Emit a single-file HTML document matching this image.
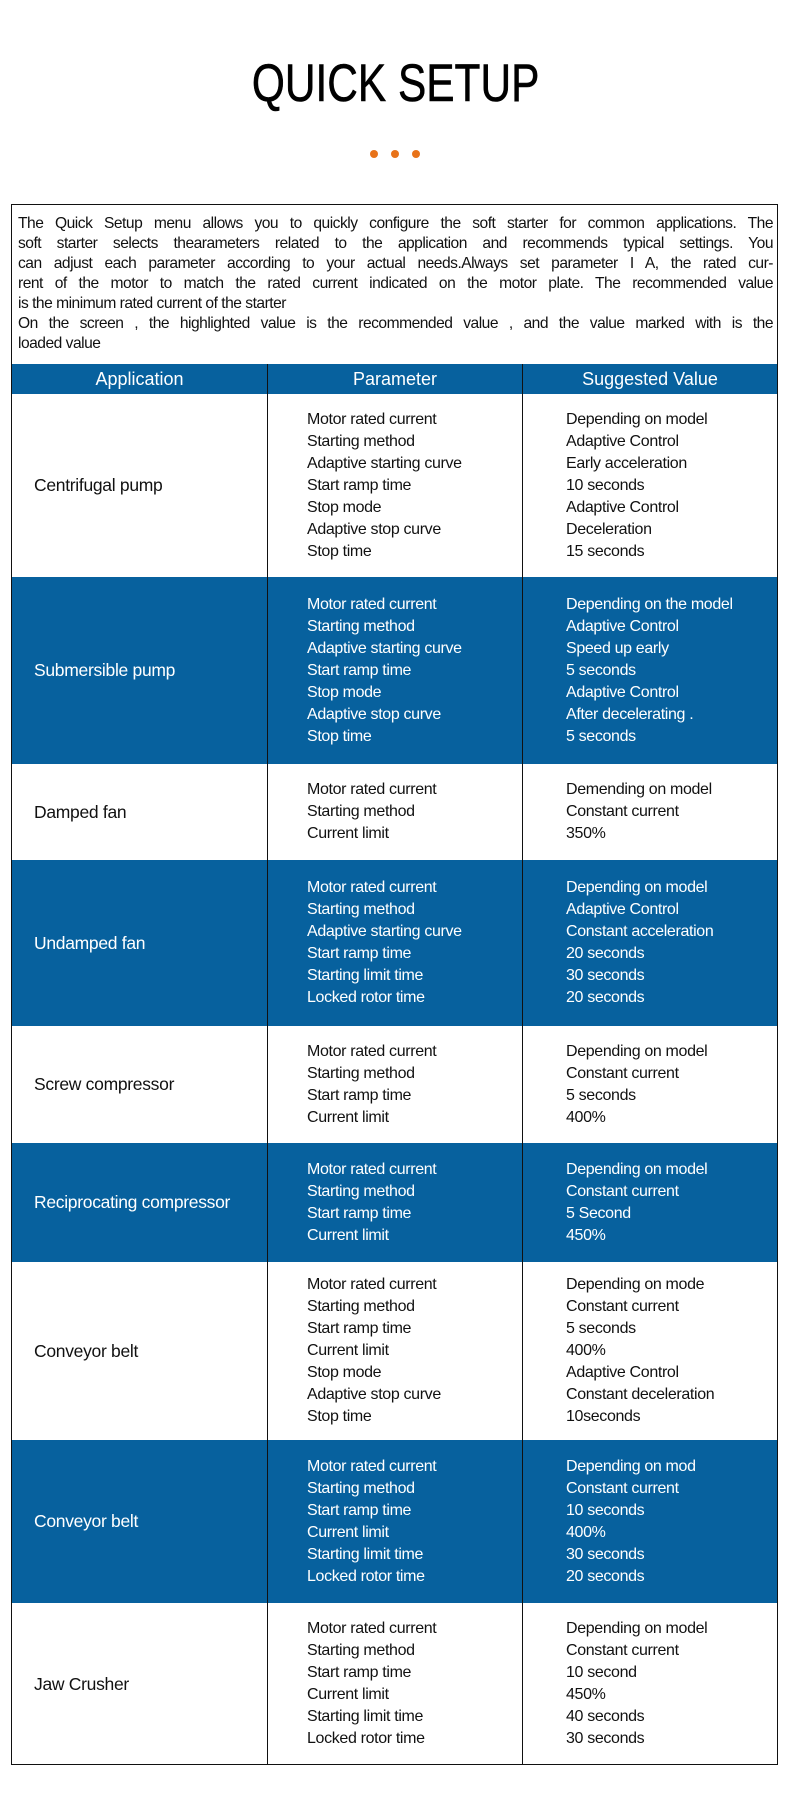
<!DOCTYPE html>
<html><head><meta charset="utf-8"><style>
*{margin:0;padding:0;box-sizing:border-box}
body{width:792px;height:1814px;background:#fff;position:relative;font-family:"Liberation Sans",sans-serif;color:#111;overflow:hidden}
.title{position:absolute;left:0;top:52px;width:792px;text-align:center;font-size:53px;line-height:64px;color:#000}
.title span{display:inline-block;transform:scaleX(0.8);-webkit-text-stroke:0.6px #000}
.dot{position:absolute;top:150px;width:8px;height:8px;border-radius:50%;background:#e8731a}
.frame{position:absolute;left:11px;top:204px;width:767px;height:1561px;border:1.5px solid #111}
.intro{position:absolute;left:18px;top:214px;width:755px;font-size:15.6px;line-height:20px;letter-spacing:-0.5px;color:#111}
.intro div{text-align:justify;text-align-last:justify;white-space:nowrap}
.intro div.l{text-align-last:left}
.row{position:absolute;left:11px;width:767px;display:flex;align-items:center;border-top:1px solid #111}
.row.b{background:#07619e;color:#fff;border-top:none}
.c1{position:absolute;left:23px;font-size:17.5px;letter-spacing:-0.3px}
.c2,.c3{position:absolute;font-size:16px;line-height:22px;letter-spacing:-0.35px}
.c2{left:296px}.c3{left:555px}
.vl{position:absolute;top:364px;height:1401px;width:1px;background:#111}
.hdr{position:absolute;left:11px;top:364px;width:767px;height:30px;background:#07619e;color:#fff;font-size:18px;line-height:30px}
.hdr span{position:absolute;text-align:center}
</style></head><body>
<div class="title"><span>QUICK SETUP</span></div>
<div class="dot" style="left:370px"></div><div class="dot" style="left:391px"></div><div class="dot" style="left:412px"></div>
<div class="frame"></div>
<div class="intro">
<div>The Quick Setup menu allows you to quickly configure the soft starter for common applications. The</div>
<div>soft starter selects thearameters related to the application and recommends typical settings. You</div>
<div>can adjust each parameter according to your actual needs.Always set parameter I A, the rated cur-</div>
<div>rent of the motor to match the rated current indicated on the motor plate. The recommended value</div>
<div class="l">is the minimum rated current of the starter</div>
<div>On the screen , the highlighted value is the recommended value , and the value marked with is the</div>
<div class="l">loaded value</div>
</div>
<div class="hdr"><span style="left:0;width:257px">Application</span><span style="left:257px;width:254px">Parameter</span><span style="left:511px;width:256px">Suggested Value</span></div>

<div class="row" style="top:394px;height:183px;border-top:none"><div class="c1">Centrifugal pump</div><div class="c2">Motor rated current<br>Starting method<br>Adaptive starting curve<br>Start ramp time<br>Stop mode<br>Adaptive stop curve<br>Stop time</div><div class="c3">Depending on model<br>Adaptive Control<br>Early acceleration<br>10 seconds<br>Adaptive Control<br>Deceleration<br>15 seconds</div></div>
<div class="row b" style="top:577px;height:187px"><div class="c1">Submersible pump</div><div class="c2">Motor rated current<br>Starting method<br>Adaptive starting curve<br>Start ramp time<br>Stop mode<br>Adaptive stop curve<br>Stop time</div><div class="c3">Depending on the model<br>Adaptive Control<br>Speed up early<br>5 seconds<br>Adaptive Control<br>After decelerating .<br>5 seconds</div></div>
<div class="row" style="top:764px;height:96px;border-top:none"><div class="c1">Damped fan</div><div class="c2">Motor rated current<br>Starting method<br>Current limit</div><div class="c3">Demending on model<br>Constant current<br>350%</div></div>
<div class="row b" style="top:860px;height:166px"><div class="c1">Undamped fan</div><div class="c2">Motor rated current<br>Starting method<br>Adaptive starting curve<br>Start ramp time<br>Starting limit time<br>Locked rotor time</div><div class="c3">Depending on model<br>Adaptive Control<br>Constant acceleration<br>20 seconds<br>30 seconds<br>20 seconds</div></div>
<div class="row" style="top:1026px;height:117px;border-top:none"><div class="c1">Screw compressor</div><div class="c2">Motor rated current<br>Starting method<br>Start ramp time<br>Current limit</div><div class="c3">Depending on model<br>Constant current<br>5 seconds<br>400%</div></div>
<div class="row b" style="top:1143px;height:119px"><div class="c1">Reciprocating compressor</div><div class="c2">Motor rated current<br>Starting method<br>Start ramp time<br>Current limit</div><div class="c3">Depending on model<br>Constant current<br>5 Second<br>450%</div></div>
<div class="row" style="top:1262px;height:178px;border-top:none"><div class="c1">Conveyor belt</div><div class="c2">Motor rated current<br>Starting method<br>Start ramp time<br>Current limit<br>Stop mode<br>Adaptive stop curve<br>Stop time</div><div class="c3">Depending on mode<br>Constant current<br>5 seconds<br>400%<br>Adaptive Control<br>Constant deceleration<br>10seconds</div></div>
<div class="row b" style="top:1440px;height:163px"><div class="c1">Conveyor belt</div><div class="c2">Motor rated current<br>Starting method<br>Start ramp time<br>Current limit<br>Starting limit time<br>Locked rotor time</div><div class="c3">Depending on mod<br>Constant current<br>10 seconds<br>400%<br>30 seconds<br>20 seconds</div></div>
<div class="row" style="top:1603px;height:162px;border-top:none"><div class="c1">Jaw Crusher</div><div class="c2">Motor rated current<br>Starting method<br>Start ramp time<br>Current limit<br>Starting limit time<br>Locked rotor time</div><div class="c3">Depending on model<br>Constant current<br>10 second<br>450%<br>40 seconds<br>30 seconds</div></div>
<div class="vl" style="left:267px"></div><div class="vl" style="left:522px"></div>
<div class="frame" style="background:none"></div>
</body></html>
